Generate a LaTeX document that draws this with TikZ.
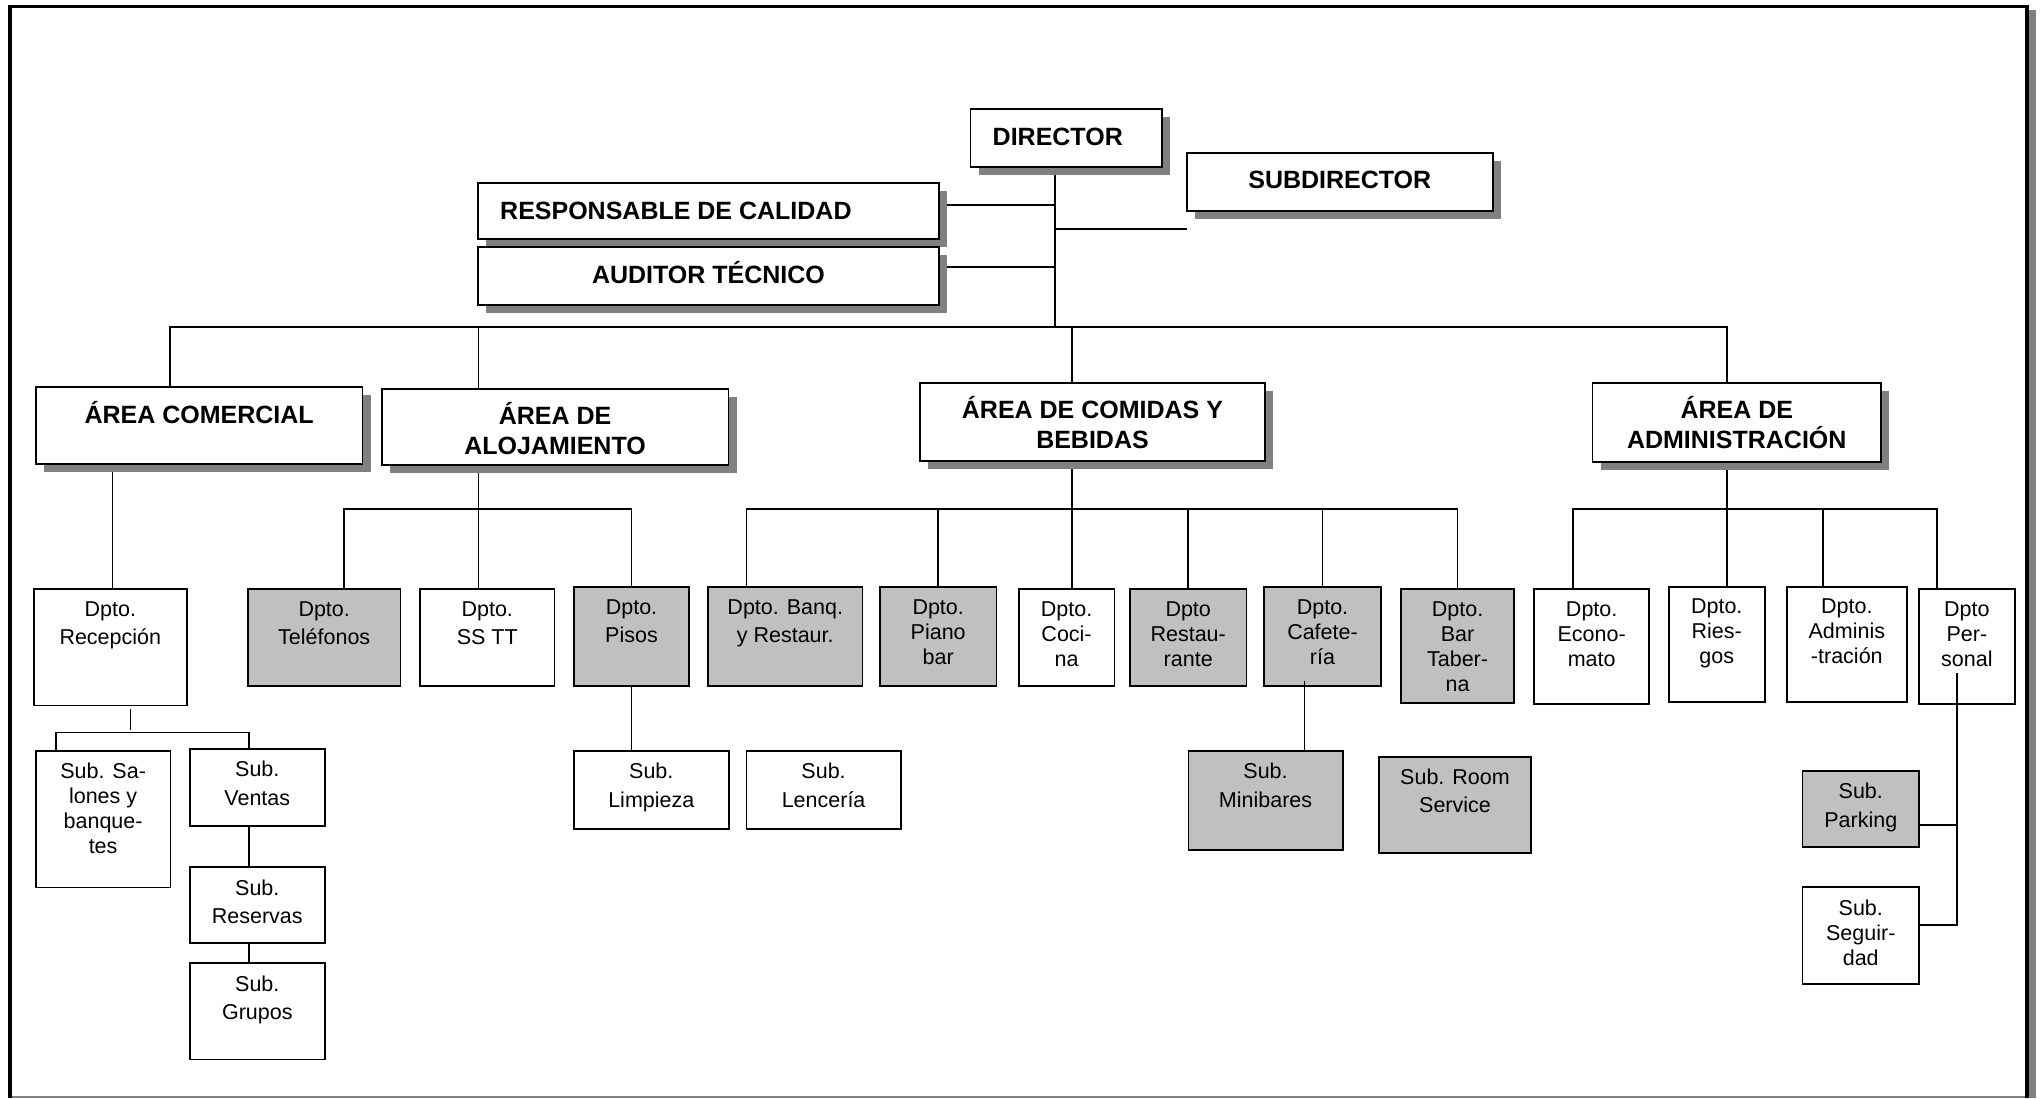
\documentclass[tikz,border=0pt]{standalone}
\usepackage{fontspec}
\setmainfont{Liberation Sans}
\usetikzlibrary{%
  shadows,
  backgrounds%
}
\definecolor{unitgrey}{RGB}{192,192,192}
\definecolor{shadowgrey}{RGB}{128,128,128}
\tikzset{
  boss/.style={
    draw,
    fill=white,
    line width=1.8pt,
    outer sep=0pt,
    anchor=north west,
    drop shadow={
      shadow xshift=8pt,
      shadow yshift=-8pt,
      fill=shadowgrey,
      opacity=1
    }
  },
  unit/.style={
    draw,
    fill=white,
    line width=1.8pt,
    outer sep=0pt,
    anchor=north west
  },
  greyunit/.style={
    unit,
    fill=unitgrey
  },
  bosstext/.style={
    anchor=north,
    align=center,
    inner xsep=0pt,
    inner ysep=13pt,
    font=\fontsize{25}{30}\selectfont\bfseries,
    execute at begin node={\rule{0pt}{23pt}}
  },
  unittext/.style={
    anchor=north,
    align=center,
    inner xsep=0pt,
    inner ysep=12pt,
    font=\fontsize{21.5}{28.5}\selectfont,
    execute at begin node={\rule{0pt}{16pt}}
  },
  tighttext/.style={
    unittext,
    font=\fontsize{21.5}{25}\selectfont
  },
  wire/.style={
    line width=1.7pt
  }
}
\begin{document}
\begin{tikzpicture}[x=1pt,y=-1pt]
\useasboundingbox (0,0) rectangle (2042,1098);
% frame
\fill[shadowgrey] (2029,10) rectangle (2036,1098);
\draw[shadowgrey,line width=1.5pt] (12,1097.2) -- (2025,1097.2);
\draw[line width=3.5pt] (10,1098) -- (10,6.5) -- (2027,6.5) -- (2027,1098);
% top
\node[boss,minimum width=191.5pt,minimum height=58pt,label={[bosstext,anchor=north west,inner xsep=22pt]north west:DIRECTOR}] (director) at (970.5,109) {};
\node[boss,minimum width=306.4pt,minimum height=58.3pt,label={[bosstext]north:SUBDIRECTOR}] (subdirector) at (1186.6,152.7) {};
\node[boss,minimum width=461pt,minimum height=56pt,label={[bosstext,anchor=north west,inner xsep=22pt]north west:RESPONSABLE DE CALIDAD}] (calidad) at (478,183) {};
\node[boss,minimum width=461pt,minimum height=58pt,label={[bosstext]north:AUDITOR TÉCNICO}] (auditor) at (478,247) {};
% areas
\node[boss,minimum width=326.8pt,minimum height=76.6pt,label={[bosstext]north:ÁREA COMERCIAL}] (comercial) at (35.7,387) {};
\node[boss,minimum width=346.9pt,minimum height=76pt,label={[bosstext]north:{ÁREA DE\\ALOJAMIENTO}}] (alojamiento) at (381.6,389) {};
\node[boss,minimum width=345pt,minimum height=78.3pt,label={[bosstext]north:{ÁREA DE COMIDAS Y\\BEBIDAS}}] (comidas) at (920,382.7) {};
\node[boss,minimum width=288.5pt,minimum height=79pt,label={[bosstext]north:{ÁREA DE\\ADMINISTRACIÓN}}] (administracion) at (1592.5,382.7) {};
% departamentos
\node[unit,minimum width=152.6pt,minimum height=116.5pt,label={[unittext]north:{Dpto.\\Recepción}}] (recepcion) at (34,589) {};
\node[greyunit,minimum width=152.4pt,minimum height=96.6pt,label={[unittext]north:{Dpto.\\Teléfonos}}] (telefonos) at (248,589) {};
\node[unit,minimum width=134.5pt,minimum height=96.6pt,label={[unittext]north:{Dpto.\\SS TT}}] (sstt) at (420,589) {};
\node[greyunit,minimum width=115pt,minimum height=98.6pt,label={[unittext]north:{Dpto.\\Pisos}}] (pisos) at (574,587) {};
\node[greyunit,minimum width=154.5pt,minimum height=98.7pt,label={[unittext]north:{Dpto. Banq.\\y Restaur.}}] (banquetes) at (708,587) {};
\node[greyunit,minimum width=116.4pt,minimum height=98.7pt,label={[tighttext]north:{Dpto.\\Piano\\bar}}] (piano) at (880,587) {};
\node[unit,minimum width=95.7pt,minimum height=96.4pt,label={[tighttext]north:{Dpto.\\Coci-\\na}}] (cocina) at (1018.7,589.3) {};
\node[greyunit,minimum width=116.4pt,minimum height=96.4pt,label={[tighttext]north:{Dpto\\Restau-\\rante}}] (restaurante) at (1130,589.3) {};
\node[greyunit,minimum width=117pt,minimum height=98.7pt,label={[tighttext]north:{Dpto.\\Cafete-\\ría}}] (cafeteria) at (1264,587) {};
\node[greyunit,minimum width=113.5pt,minimum height=114pt,label={[tighttext]north:{Dpto.\\Bar\\Taber-\\na}}] (taberna) at (1400.8,589.3) {};
\node[unit,minimum width=114.7pt,minimum height=114.7pt,label={[tighttext]north:{Dpto.\\Econo-\\mato}}] (economato) at (1534.3,589) {};
\node[unit,minimum width=96.3pt,minimum height=115pt,label={[tighttext]north:{Dpto.\\Ries-\\gos}}] (riesgos) at (1668.6,586.7) {};
\node[unit,minimum width=120.4pt,minimum height=115pt,label={[tighttext]north:{Dpto.\\Adminis\\-tración}}] (gestion) at (1786.6,586.7) {};
\node[unit,minimum width=96.2pt,minimum height=114.7pt,label={[tighttext]north:{Dpto\\Per-\\sonal}}] (personal) at (1918.8,589) {};
% subdepartamentos
\node[unit,minimum width=134.8pt,minimum height=136.5pt,label={[tighttext]north:{Sub. Sa-\\lones y\\banque-\\tes}}] (salones) at (35.7,751) {};
\node[unit,minimum width=134.6pt,minimum height=76.7pt,label={[unittext]north:{Sub.\\Ventas}}] (ventas) at (190,749) {};
\node[unit,minimum width=134.6pt,minimum height=75.7pt,label={[unittext]north:{Sub.\\Reservas}}] (reservas) at (190,867.3) {};
\node[unit,minimum width=134.6pt,minimum height=96.1pt,label={[unittext]north:{Sub.\\Grupos}}] (grupos) at (190,963.3) {};
\node[unit,minimum width=154.6pt,minimum height=78.3pt,label={[unittext]north:{Sub.\\Limpieza}}] (limpieza) at (574,751) {};
\node[unit,minimum width=154.4pt,minimum height=78.3pt,label={[unittext]north:{Sub.\\Lencería}}] (lenceria) at (746.4,751) {};
\node[greyunit,minimum width=154.3pt,minimum height=99pt,label={[unittext]north:{Sub.\\Minibares}}] (minibares) at (1188.4,751) {};
\node[greyunit,minimum width=152pt,minimum height=96.6pt,label={[unittext]north:{Sub. Room\\Service}}] (roomservice) at (1379,756.7) {};
\node[greyunit,minimum width=116.5pt,minimum height=76.3pt,label={[unittext]north:{Sub.\\Parking}}] (parking) at (1802.5,771) {};
\node[unit,minimum width=116.5pt,minimum height=96.4pt,label={[tighttext]north:{Sub.\\Seguir-\\dad}}] (seguridad) at (1802.5,887.3) {};
% connectors
\coordinate (hub) at (1054.7,326.7);
\coordinate (rsplit) at (130.4,732.4);
\begin{pgfonlayer}{background}
\draw[wire] (director.south -| hub) -- (hub);
\draw[wire] (calidad.east |- 0,205) -- (hub |- 0,205);
\draw[wire] (auditor.east |- 0,267) -- (hub |- 0,267);
\draw[wire] (hub |- 0,229) -- (subdirector.west |- 0,229);
\draw[wire] (comercial.north -| 170,0) |- (hub) -| (administracion.north -| 1726.8,0);
\draw[wire] (alojamiento.north -| 478.6,0) -- (hub -| 478.6,0);
\draw[wire] (comidas.north -| 1072,0) -- (hub -| 1072,0);
% comercial
\draw[wire] (comercial.south -| 112.5,0) -- (recepcion.north -| 112.5,0);
\draw[wire] (recepcion.south -| rsplit) ++(0,3.5) -- ++(0,21);
\draw[wire] (salones.north -| 56,0) |- (rsplit) -| (ventas.north -| 249,0);
\draw[wire] (ventas.south -| 248.7,0) -- (reservas.north -| 248.7,0);
\draw[wire] (reservas.south -| 248.7,0) -- (grupos.north -| 248.7,0);
% alojamiento
\draw[wire] (alojamiento.south -| 478.6,0) -- (sstt.north -| 478.6,0);
\draw[wire] (telefonos.north -| 344,0) |- (pisos.north |- 0,509) -- (pisos.north);
\draw[wire] (pisos.south) -- (pisos.south |- limpieza.north);
% comidas y bebidas
\draw[wire] (comidas.south -| 1072,0) -- (cocina.north -| 1072,0);
\draw[wire] (banquetes.north -| 746.4,0) |- (taberna.north |- 0,509) -- (taberna.north);
\foreach \dept in {piano,restaurante,cafeteria} {
  \draw[wire] (\dept.north) -- (\dept.north |- 0,509);
}
% administracion
\draw[wire] (administracion.south -| 1726.8,0) -- (riesgos.north -| 1726.8,0);
\draw[wire] (economato.north -| 1572.8,0) |- (1937.3,509.3) -- (personal.north -| 1937.3,0);
\draw[wire] (gestion.north -| 1823,0) -- (1823,509.3);
\draw[wire] (parking.east |- 0,825.3) -- (1957,825.3);
\end{pgfonlayer}
\draw[wire] (cafeteria.south -| 1304.5,0) ++(0,-5) -- (minibares.north -| 1304.5,0);
\draw[wire] (personal.south -| 1957,0) ++(0,-30.7) |- (seguridad.east |- 0,925.3);
\end{tikzpicture}
\end{document}
